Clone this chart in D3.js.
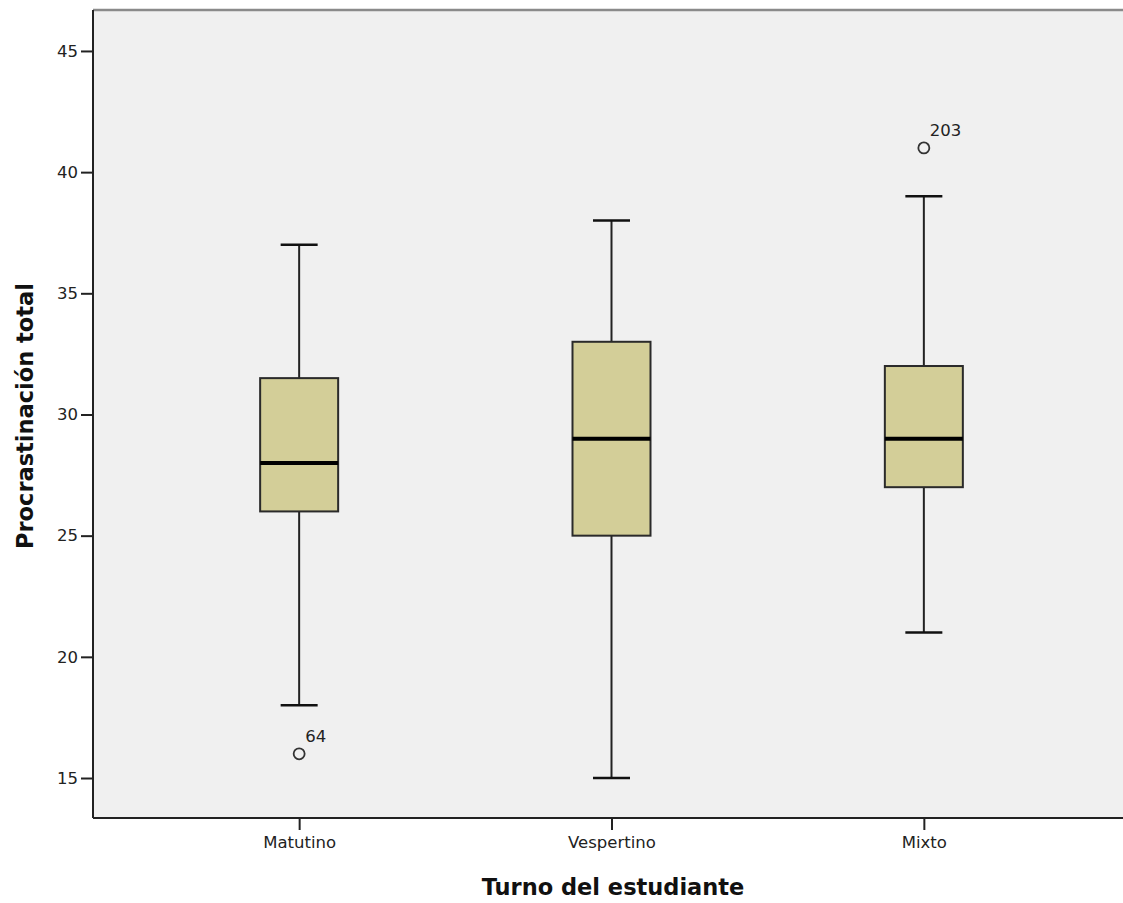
<!DOCTYPE html>
<html>
<head>
<meta charset="utf-8">
<script src="https://cdn.jsdelivr.net/npm/d3@7"></script>
<style>
  html, body { margin: 0; padding: 0; background: #ffffff; }
  svg { display: block; }
</style>
</head>
<body>
<svg id="chart" width="1123" height="903"></svg>
<script>
// Box-plot summaries per shift
const categories = ["Matutino", "Vespertino", "Mixto"];
const whiskerLow = [18, 15, 21];
const q1Values = [26, 25, 27];
const medianValues = [28, 29, 29];
const q3Values = [31.5, 33, 32];
const whiskerHigh = [37, 38, 39];

// Outlying cases (case number shown as label)
const outlierCategory = ["Matutino", "Mixto"];
const outlierValue = [16, 41];
const outlierCase = ["64", "203"];

const yTicks = [15, 20, 25, 30, 35, 40, 45];
const yTitle = "Procrastinación total";
const xTitle = "Turno del estudiante";

const svg = d3.select("#chart");
const W = 1123, H = 903;
const plot = { left: 93, top: 10, right: 1130, bottom: 818 };

const x = d3.scalePoint()
  .domain(categories)
  .range([plot.left, plot.right])
  .padding(0.66);

const y = d3.scaleLinear()
  .domain([13.35, 46.69])
  .range([plot.bottom, plot.top]);

// Plot background
svg.append("rect")
  .attr("x", plot.left).attr("y", plot.top)
  .attr("width", plot.right - plot.left).attr("height", plot.bottom - plot.top)
  .attr("fill", "#f0f0f0");

// Top frame line
svg.append("line")
  .attr("x1", plot.left).attr("x2", W)
  .attr("y1", plot.top).attr("y2", plot.top)
  .attr("stroke", "#8a8a8a").attr("stroke-width", 2.5);

const fontTick = "'DejaVu Sans', sans-serif";
const tickSize = "16.5px";

// Y axis
const yAxis = svg.append("g")
  .attr("transform", `translate(${plot.left},0)`)
  .call(d3.axisLeft(y).tickValues(yTicks).tickSize(12).tickPadding(3).tickFormat(d3.format("d")));
yAxis.select(".domain").attr("stroke", "#222").attr("stroke-width", 2).attr("d", `M0,${plot.top}V${plot.bottom}`);
yAxis.selectAll(".tick line").attr("stroke", "#222").attr("stroke-width", 2);
yAxis.selectAll(".tick text").attr("fill", "#222").style("font-family", fontTick).style("font-size", tickSize);

// X axis
const xAxis = svg.append("g")
  .attr("transform", `translate(0,${plot.bottom})`)
  .call(d3.axisBottom(x).tickSize(12).tickPadding(6));
xAxis.select(".domain").attr("stroke", "#222").attr("stroke-width", 2).attr("d", `M${plot.left},0H${W}`);
xAxis.selectAll(".tick line").attr("stroke", "#222").attr("stroke-width", 2);
xAxis.selectAll(".tick text").attr("fill", "#222").style("font-family", fontTick).style("font-size", tickSize);

// Axis titles
svg.append("text")
  .attr("x", 613).attr("y", 895)
  .attr("text-anchor", "middle")
  .style("font-family", "'DejaVu Sans', sans-serif").style("font-weight", "bold").style("font-size", "22.5px")
  .attr("fill", "#111")
  .text(xTitle);

svg.append("text")
  .attr("transform", `translate(33,${(plot.top + plot.bottom) / 2 + 2}) rotate(-90)`)
  .attr("text-anchor", "middle")
  .style("font-family", "'DejaVu Sans', sans-serif").style("font-weight", "bold").style("font-size", "22.5px")
  .attr("fill", "#111")
  .text(yTitle);

// Boxes
const boxW = 78, capW = 37;
const boxes = categories.map((c, i) => ({
  c, lo: whiskerLow[i], q1: q1Values[i], med: medianValues[i], q3: q3Values[i], hi: whiskerHigh[i]
}));

const g = svg.append("g");
boxes.forEach(b => {
  const cx = x(b.c);
  // whiskers
  g.append("line").attr("x1", cx).attr("x2", cx).attr("y1", y(b.hi)).attr("y2", y(b.q3))
    .attr("stroke", "#222").attr("stroke-width", 2);
  g.append("line").attr("x1", cx).attr("x2", cx).attr("y1", y(b.q1)).attr("y2", y(b.lo))
    .attr("stroke", "#222").attr("stroke-width", 2);
  // caps
  [b.hi, b.lo].forEach(v => {
    g.append("line").attr("x1", cx - capW / 2).attr("x2", cx + capW / 2).attr("y1", y(v)).attr("y2", y(v))
      .attr("stroke", "#111").attr("stroke-width", 2.5);
  });
  // box
  g.append("rect")
    .attr("x", cx - boxW / 2).attr("y", y(b.q3))
    .attr("width", boxW).attr("height", y(b.q1) - y(b.q3))
    .attr("fill", "#d3ce98").attr("stroke", "#2a2a2a").attr("stroke-width", 2);
  // median
  g.append("line").attr("x1", cx - boxW / 2).attr("x2", cx + boxW / 2).attr("y1", y(b.med)).attr("y2", y(b.med))
    .attr("stroke", "#000").attr("stroke-width", 4);
});

// Outliers
outlierCategory.forEach((c, i) => {
  const cx = x(c), cy = y(outlierValue[i]);
  g.append("circle").attr("cx", cx).attr("cy", cy).attr("r", 5.5)
    .attr("fill", "none").attr("stroke", "#333").attr("stroke-width", 1.8);
  g.append("text").attr("x", cx + 6).attr("y", cy - 12)
    .style("font-family", fontTick).style("font-size", tickSize).attr("fill", "#222")
    .text(outlierCase[i]);
});
</script>
</body>
</html>
